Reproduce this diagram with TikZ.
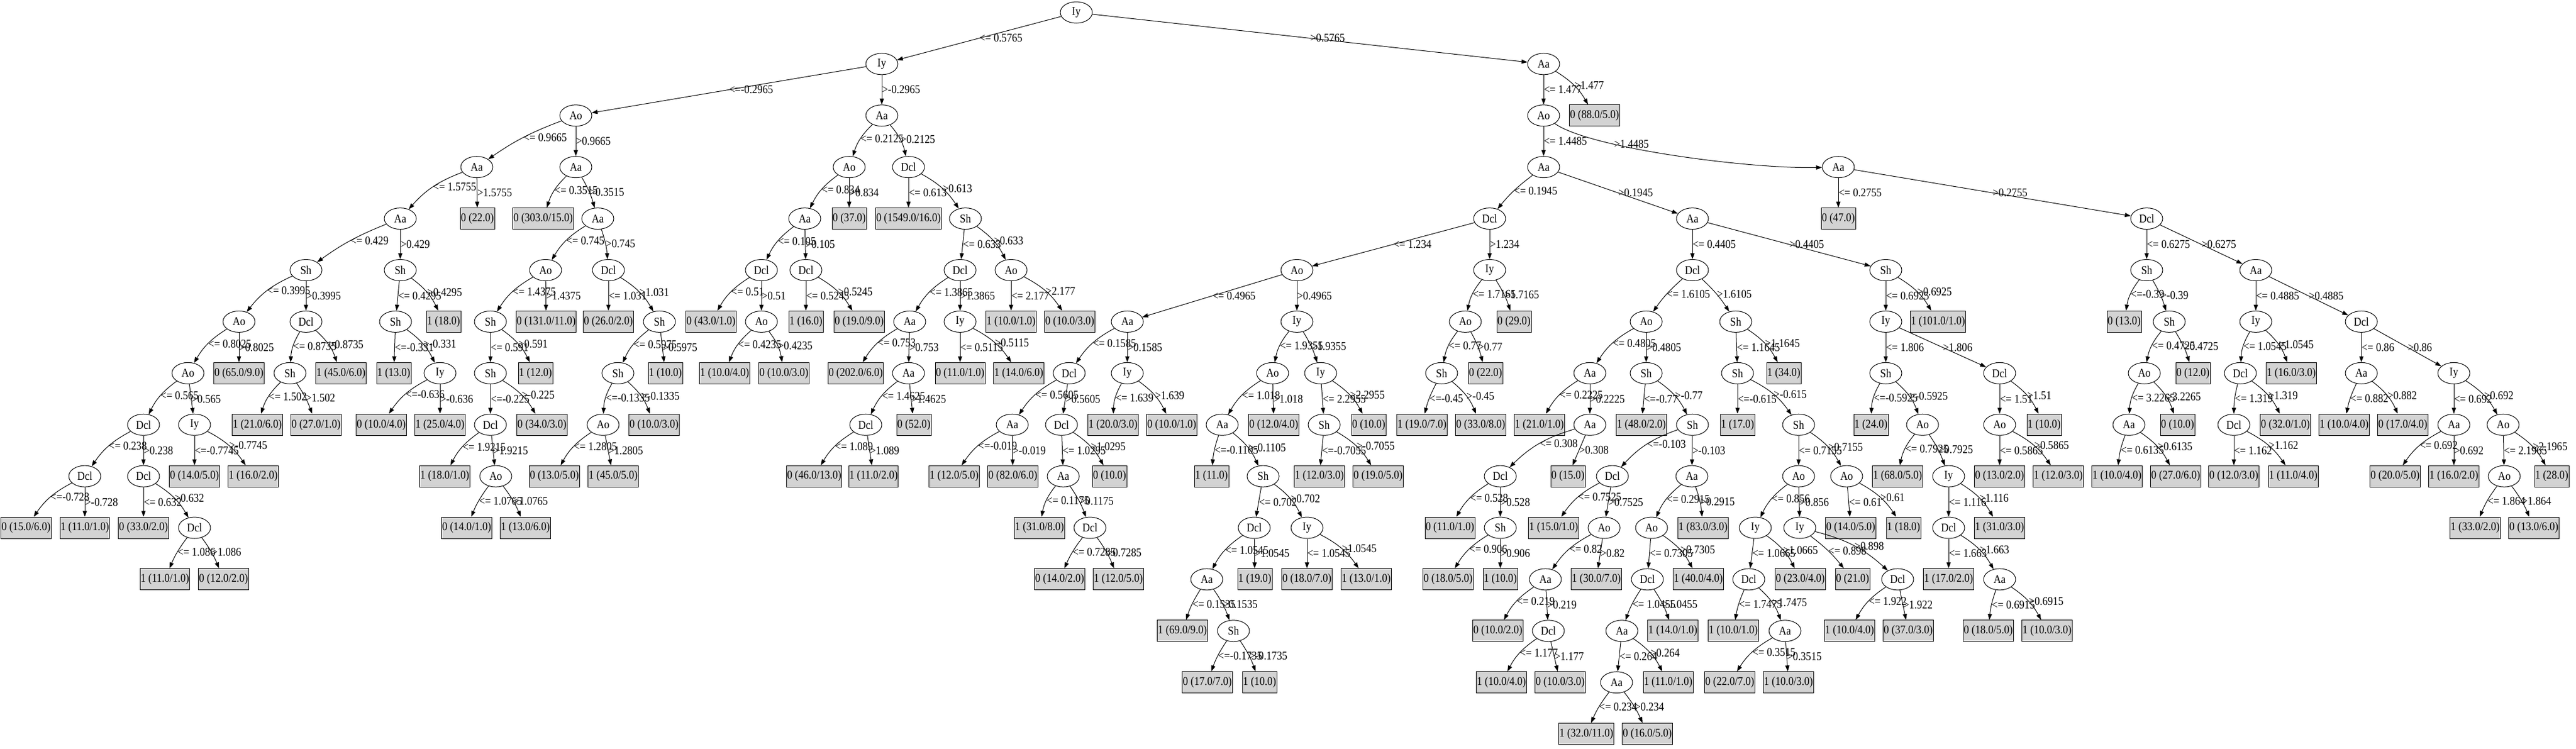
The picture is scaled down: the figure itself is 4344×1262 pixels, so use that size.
\documentclass[tikz,border=0pt]{standalone}
\usepackage{fontspec}
\setmainfont{Liberation Serif}[FakeStretch=0.88]
\usetikzlibrary{arrows.meta,shapes.geometric}
\definecolor{leafgray}{HTML}{D3D3D3}
\tikzset{
  inode/.style={ellipse, draw, line width=1pt, minimum width=54pt, minimum height=36pt, inner sep=0pt},
  leaf/.style={rectangle, draw, fill=leafgray, line width=1pt, minimum height=36pt, minimum width=58pt, inner xsep=1pt, inner ysep=0pt},
  edge/.style={line width=1pt, -{Triangle[length=10pt,width=7pt]}},
  lbl/.style={anchor=west, inner sep=0pt},
  bl/.style={bend right=14}, bls/.style={bend right=7},
  br/.style={bend left=14}, brs/.style={bend left=7},
  st/.style={}
}
\newcommand{\mkin}[4]{\node[inode] (#1) at (#2,{-21-86.9*#3}) {#4};}
\newcommand{\mklf}[4]{\node[leaf] (#1) at (#2,{-21-86.9*#3}) {#4};}
\newcommand{\mkedge}[4]{\draw[edge] (#1) to[#4] node[lbl]{#3} (#2);}
\begin{document}
\begin{tikzpicture}[x=1pt, y=1pt, font=\fontsize{20}{24}\selectfont]
\useasboundingbox (0,0) rectangle (4344,-1262);
% level 0-3
\mkin{n0}{1815}{0}{Iy}
\mkin{n1}{1487}{1}{Iy}
\mkin{n2}{2603}{1}{Aa}
\mkin{n3}{971}{2}{Ao}
\mkin{n4}{1487}{2}{Aa}
\mkin{n5}{2603}{2}{Ao}
\mklf{n6}{2689}{2}{0 (88.0/5.0)}
\mkin{n7}{804}{3}{Aa}
\mkin{n8}{971}{3}{Aa}
\mkin{n9}{1432}{3}{Ao}
\mkin{n10}{1532}{3}{Dcl}
\mkin{n11}{2603}{3}{Aa}
\mkin{n12}{3100}{3}{Aa}
% level 4
\mkin{n13}{675}{4}{Aa}
\mklf{n14}{805}{4}{0 (22.0)}
\mklf{n15}{916}{4}{0 (303.0/15.0)}
\mkin{n16}{1008}{4}{Aa}
\mkin{n17}{1357}{4}{Aa}
\mklf{n18}{1432}{4}{0 (37.0)}
\mklf{n19}{1532}{4}{0 (1549.0/16.0)}
\mkin{n20}{1628}{4}{Sh}
\mkin{n21}{2512}{4}{Dcl}
\mkin{n22}{2854}{4}{Aa}
\mklf{n23}{3100}{4}{0 (47.0)}
\mkin{n24}{3620}{4}{Dcl}
% level 5
\mkin{n25}{516}{5}{Sh}
\mkin{n26}{675}{5}{Sh}
\mkin{n27}{920}{5}{Ao}
\mkin{n28}{1026}{5}{Dcl}
\mkin{n29}{1284}{5}{Dcl}
\mkin{n30}{1359}{5}{Dcl}
\mkin{n31}{1619}{5}{Dcl}
\mkin{n32}{1705}{5}{Ao}
\mkin{n33}{2187}{5}{Ao}
\mkin{n34}{2512}{5}{Iy}
\mkin{n35}{2854}{5}{Dcl}
\mkin{n36}{3180}{5}{Sh}
\mkin{n37}{3620}{5}{Sh}
\mkin{n38}{3804}{5}{Aa}
% level 6
\mkin{n39}{403}{6}{Ao}
\mkin{n40}{516}{6}{Dcl}
\mkin{n41}{667}{6}{Sh}
\mklf{n42}{748}{6}{1 (18.0)}
\mkin{n43}{827}{6}{Sh}
\mklf{n44}{921}{6}{0 (131.0/11.0)}
\mklf{n45}{1026}{6}{0 (26.0/2.0)}
\mkin{n46}{1112}{6}{Sh}
\mklf{n47}{1199}{6}{0 (43.0/1.0)}
\mkin{n48}{1284}{6}{Ao}
\mklf{n49}{1359}{6}{1 (16.0)}
\mklf{n50}{1449}{6}{0 (19.0/9.0)}
\mkin{n51}{1534}{6}{Aa}
\mkin{n52}{1619}{6}{Iy}
\mklf{n53}{1705}{6}{1 (10.0/1.0)}
\mklf{n54}{1804}{6}{0 (10.0/3.0)}
\mkin{n55}{1901}{6}{Aa}
\mkin{n56}{2187}{6}{Iy}
\mkin{n57}{2471}{6}{Ao}
\mklf{n58}{2553}{6}{0 (29.0)}
\mkin{n59}{2776}{6}{Ao}
\mkin{n60}{2927}{6}{Sh}
\mkin{n61}{3180}{6}{Iy}
\mklf{n62}{3268}{6}{1 (101.0/1.0)}
\mklf{n63}{3582}{6}{0 (13.0)}
\mkin{n64}{3658}{6}{Sh}
\mkin{n65}{3804}{6}{Iy}
\mkin{n66}{3982}{6}{Dcl}
% level 7
\mkin{n67}{317}{7}{Ao}
\mklf{n68}{403}{7}{0 (65.0/9.0)}
\mkin{n69}{489}{7}{Sh}
\mklf{n70}{575}{7}{1 (45.0/6.0)}
\mklf{n71}{664}{7}{1 (13.0)}
\mkin{n72}{742}{7}{Iy}
\mkin{n73}{827}{7}{Sh}
\mklf{n74}{903}{7}{1 (12.0)}
\mkin{n75}{1042}{7}{Sh}
\mklf{n76}{1122}{7}{1 (10.0)}
\mklf{n77}{1222}{7}{1 (10.0/4.0)}
\mklf{n78}{1322}{7}{0 (10.0/3.0)}
\mklf{n79}{1443}{7}{0 (202.0/6.0)}
\mkin{n80}{1532}{7}{Aa}
\mklf{n81}{1619}{7}{0 (11.0/1.0)}
\mklf{n82}{1718}{7}{1 (14.0/6.0)}
\mkin{n83}{1803}{7}{Dcl}
\mkin{n84}{1901}{7}{Iy}
\mkin{n85}{2146}{7}{Ao}
\mkin{n86}{2227}{7}{Iy}
\mkin{n87}{2431}{7}{Sh}
\mklf{n88}{2505}{7}{0 (22.0)}
\mkin{n89}{2681}{7}{Aa}
\mkin{n90}{2776}{7}{Sh}
\mkin{n91}{2930}{7}{Sh}
\mklf{n92}{3008}{7}{1 (34.0)}
\mkin{n93}{3180}{7}{Sh}
\mkin{n94}{3372}{7}{Dcl}
\mkin{n95}{3616}{7}{Ao}
\mklf{n96}{3698}{7}{0 (12.0)}
\mkin{n97}{3778}{7}{Dcl}
\mklf{n98}{3864}{7}{1 (16.0/3.0)}
\mkin{n99}{3982}{7}{Aa}
\mkin{n100}{4138}{7}{Iy}
% level 8
\mkin{n101}{242}{8}{Dcl}
\mkin{n102}{328}{8}{Iy}
\mklf{n103}{434}{8}{1 (21.0/6.0)}
\mklf{n104}{533}{8}{0 (27.0/1.0)}
\mklf{n105}{643}{8}{0 (10.0/4.0)}
\mklf{n106}{742}{8}{1 (25.0/4.0)}
\mkin{n107}{827}{8}{Dcl}
\mklf{n108}{914}{8}{0 (34.0/3.0)}
\mkin{n109}{1017}{8}{Ao}
\mklf{n110}{1103}{8}{0 (10.0/3.0)}
\mkin{n111}{1460}{8}{Dcl}
\mklf{n112}{1541}{8}{0 (52.0)}
\mkin{n113}{1707}{8}{Aa}
\mkin{n114}{1790}{8}{Dcl}
\mklf{n115}{1877}{8}{1 (20.0/3.0)}
\mklf{n116}{1976}{8}{0 (10.0/1.0)}
\mkin{n117}{2061}{8}{Aa}
\mklf{n118}{2148}{8}{0 (12.0/4.0)}
\mkin{n119}{2233}{8}{Sh}
\mklf{n120}{2308}{8}{0 (10.0)}
\mklf{n121}{2398}{8}{1 (19.0/7.0)}
\mklf{n122}{2497}{8}{0 (33.0/8.0)}
\mklf{n123}{2596}{8}{1 (21.0/1.0)}
\mkin{n124}{2681}{8}{Aa}
\mklf{n125}{2768}{8}{1 (48.0/2.0)}
\mkin{n126}{2854}{8}{Sh}
\mklf{n127}{2930}{8}{1 (17.0)}
\mkin{n128}{3033}{8}{Sh}
\mklf{n129}{3155}{8}{1 (24.0)}
\mkin{n130}{3242}{8}{Ao}
\mkin{n131}{3372}{8}{Ao}
\mklf{n132}{3447}{8}{1 (10.0)}
\mkin{n133}{3590}{8}{Aa}
\mklf{n134}{3672}{8}{0 (10.0)}
\mkin{n135}{3767}{8}{Dcl}
\mklf{n136}{3854}{8}{0 (32.0/1.0)}
\mklf{n137}{3953}{8}{1 (10.0/4.0)}
\mklf{n138}{4052}{8}{0 (17.0/4.0)}
\mkin{n139}{4138}{8}{Aa}
\mkin{n140}{4221}{8}{Ao}
% level 9
\mkin{n141}{143}{9}{Dcl}
\mkin{n142}{242}{9}{Dcl}
\mklf{n143}{328}{9}{0 (14.0/5.0)}
\mklf{n144}{427}{9}{1 (16.0/2.0)}
\mklf{n145}{750}{9}{1 (18.0/1.0)}
\mkin{n146}{836}{9}{Ao}
\mklf{n147}{935}{9}{0 (13.0/5.0)}
\mklf{n148}{1034}{9}{1 (45.0/5.0)}
\mklf{n149}{1373}{9}{0 (46.0/13.0)}
\mklf{n150}{1473}{9}{1 (11.0/2.0)}
\mklf{n151}{1609}{9}{1 (12.0/5.0)}
\mklf{n152}{1708}{9}{0 (82.0/6.0)}
\mkin{n153}{1793}{9}{Aa}
\mklf{n154}{1871}{9}{0 (10.0)}
\mklf{n155}{2043}{9}{1 (11.0)}
\mkin{n156}{2130}{9}{Sh}
\mklf{n157}{2225}{9}{1 (12.0/3.0)}
\mklf{n158}{2324}{9}{0 (19.0/5.0)}
\mkin{n159}{2530}{9}{Dcl}
\mklf{n160}{2644}{9}{0 (15.0)}
\mkin{n161}{2719}{9}{Dcl}
\mkin{n162}{2853}{9}{Aa}
\mkin{n163}{3033}{9}{Ao}
\mkin{n164}{3114}{9}{Ao}
\mklf{n165}{3200}{9}{1 (68.0/5.0)}
\mkin{n166}{3286}{9}{Iy}
\mklf{n167}{3372}{9}{0 (13.0/2.0)}
\mklf{n168}{3471}{9}{1 (12.0/3.0)}
\mklf{n169}{3570}{9}{1 (10.0/4.0)}
\mklf{n170}{3669}{9}{0 (27.0/6.0)}
\mklf{n171}{3767}{9}{0 (12.0/3.0)}
\mklf{n172}{3867}{9}{1 (11.0/4.0)}
\mklf{n173}{4039}{9}{0 (20.0/5.0)}
\mklf{n174}{4138}{9}{1 (16.0/2.0)}
\mkin{n175}{4223}{9}{Ao}
\mklf{n176}{4303}{9}{1 (28.0)}
% level 10
\mklf{n177}{44}{10}{0 (15.0/6.0)}
\mklf{n178}{143}{10}{1 (11.0/1.0)}
\mklf{n179}{242}{10}{0 (33.0/2.0)}
\mkin{n180}{328}{10}{Dcl}
\mklf{n181}{787}{10}{0 (14.0/1.0)}
\mklf{n182}{886}{10}{1 (13.0/6.0)}
\mklf{n183}{1753}{10}{1 (31.0/8.0)}
\mkin{n184}{1838}{10}{Dcl}
\mkin{n185}{2115}{10}{Dcl}
\mkin{n186}{2204}{10}{Iy}
\mklf{n187}{2445}{10}{0 (11.0/1.0)}
\mkin{n188}{2530}{10}{Sh}
\mklf{n189}{2620}{10}{1 (15.0/1.0)}
\mkin{n190}{2705}{10}{Ao}
\mkin{n191}{2785}{10}{Ao}
\mklf{n192}{2872}{10}{1 (83.0/3.0)}
\mkin{n193}{2960}{10}{Iy}
\mkin{n194}{3035}{10}{Iy}
\mklf{n195}{3121}{10}{0 (14.0/5.0)}
\mklf{n196}{3210}{10}{1 (18.0)}
\mkin{n197}{3286}{10}{Dcl}
\mklf{n198}{3372}{10}{1 (31.0/3.0)}
\mklf{n199}{4174}{10}{1 (33.0/2.0)}
\mklf{n200}{4273}{10}{0 (13.0/6.0)}
% level 11
\mklf{n201}{278}{11}{1 (11.0/1.0)}
\mklf{n202}{377}{11}{0 (12.0/2.0)}
\mklf{n203}{1787}{11}{0 (14.0/2.0)}
\mklf{n204}{1886}{11}{1 (12.0/5.0)}
\mkin{n205}{2035}{11}{Aa}
\mklf{n206}{2116}{11}{1 (19.0)}
\mklf{n207}{2204}{11}{0 (18.0/7.0)}
\mklf{n208}{2304}{11}{1 (13.0/1.0)}
\mklf{n209}{2442}{11}{0 (18.0/5.0)}
\mklf{n210}{2530}{11}{1 (10.0)}
\mkin{n211}{2606}{11}{Aa}
\mklf{n212}{2692}{11}{1 (30.0/7.0)}
\mkin{n213}{2778}{11}{Dcl}
\mklf{n214}{2864}{11}{1 (40.0/4.0)}
\mkin{n215}{2949}{11}{Dcl}
\mklf{n216}{3036}{11}{0 (23.0/4.0)}
\mklf{n217}{3124}{11}{0 (21.0)}
\mkin{n218}{3200}{11}{Dcl}
\mklf{n219}{3286}{11}{1 (17.0/2.0)}
\mkin{n220}{3372}{11}{Aa}
% level 12
\mklf{n221}{1994}{12}{1 (69.0/9.0)}
\mkin{n222}{2080}{12}{Sh}
\mklf{n223}{2526}{12}{0 (10.0/2.0)}
\mkin{n224}{2611}{12}{Dcl}
\mkin{n225}{2735}{12}{Aa}
\mklf{n226}{2821}{12}{1 (14.0/1.0)}
\mklf{n227}{2923}{12}{1 (10.0/1.0)}
\mkin{n228}{3010}{12}{Aa}
\mklf{n229}{3119}{12}{1 (10.0/4.0)}
\mklf{n230}{3218}{12}{0 (37.0/3.0)}
\mklf{n231}{3353}{12}{0 (18.0/5.0)}
\mklf{n232}{3452}{12}{1 (10.0/3.0)}
% level 13
\mklf{n233}{2036}{13}{0 (17.0/7.0)}
\mklf{n234}{2124}{13}{1 (10.0)}
\mklf{n235}{2532}{13}{1 (10.0/4.0)}
\mklf{n236}{2631}{13}{0 (10.0/3.0)}
\mkin{n237}{2726}{13}{Aa}
\mklf{n238}{2813}{13}{1 (11.0/1.0)}
\mklf{n239}{2917}{13}{0 (22.0/7.0)}
\mklf{n240}{3016}{13}{1 (10.0/3.0)}
% level 14
\mklf{n241}{2675}{14}{1 (32.0/11.0)}
\mklf{n242}{2778}{14}{0 (16.0/5.0)}
% edges
\mkedge{n0}{n1}{<= 0.5765}{st}
\mkedge{n0}{n2}{>0.5765}{st}
\mkedge{n1}{n3}{<=-0.2965}{st}
\mkedge{n1}{n4}{>-0.2965}{st}
\mkedge{n2}{n5}{<= 1.477}{st}
\mkedge{n2}{n6}{>1.477}{br}
\mkedge{n3}{n7}{<= 0.9665}{bls}
\mkedge{n3}{n8}{>0.9665}{st}
\mkedge{n4}{n9}{<= 0.2125}{bl}
\mkedge{n4}{n10}{>0.2125}{br}
\mkedge{n5}{n11}{<= 1.4485}{st}
\draw[edge] (n5) .. controls (2680,-250) and (2950,-285) .. (n12) node[lbl, pos=0.3] {>1.4485};
\mkedge{n7}{n13}{<= 1.5755}{bl}
\mkedge{n7}{n14}{>1.5755}{st}
\mkedge{n8}{n15}{<= 0.3515}{bl}
\mkedge{n8}{n16}{>0.3515}{brs}
\mkedge{n9}{n17}{<= 0.834}{bl}
\mkedge{n9}{n18}{>0.834}{st}
\mkedge{n10}{n19}{<= 0.613}{st}
\mkedge{n10}{n20}{>0.613}{br}
\mkedge{n11}{n21}{<= 0.1945}{bls}
\mkedge{n11}{n22}{>0.1945}{st}
\mkedge{n12}{n23}{<= 0.2755}{st}
\mkedge{n12}{n24}{>0.2755}{st}
\mkedge{n13}{n25}{<= 0.429}{bls}
\mkedge{n13}{n26}{>0.429}{st}
\mkedge{n16}{n27}{<= 0.745}{bl}
\mkedge{n16}{n28}{>0.745}{brs}
\mkedge{n17}{n29}{<= 0.105}{bl}
\mkedge{n17}{n30}{>0.105}{st}
\mkedge{n20}{n31}{<= 0.633}{st}
\mkedge{n20}{n32}{>0.633}{br}
\mkedge{n21}{n33}{<= 1.234}{st}
\mkedge{n21}{n34}{>1.234}{st}
\mkedge{n22}{n35}{<= 0.4405}{st}
\mkedge{n22}{n36}{>0.4405}{st}
\mkedge{n24}{n37}{<= 0.6275}{st}
\mkedge{n24}{n38}{>0.6275}{st}
\mkedge{n25}{n39}{<= 0.3995}{bl}
\mkedge{n25}{n40}{>0.3995}{st}
\mkedge{n26}{n41}{<= 0.4295}{st}
\mkedge{n26}{n42}{>0.4295}{br}
\mkedge{n27}{n43}{<= 1.4375}{bl}
\mkedge{n27}{n44}{>1.4375}{st}
\mkedge{n28}{n45}{<= 1.031}{st}
\mkedge{n28}{n46}{>1.031}{br}
\mkedge{n29}{n47}{<= 0.51}{bl}
\mkedge{n29}{n48}{>0.51}{st}
\mkedge{n30}{n49}{<= 0.5245}{st}
\mkedge{n30}{n50}{>0.5245}{br}
\mkedge{n31}{n51}{<= 1.3865}{bl}
\mkedge{n31}{n52}{>1.3865}{st}
\mkedge{n32}{n53}{<= 2.177}{st}
\mkedge{n32}{n54}{>2.177}{br}
\mkedge{n33}{n55}{<= 0.4965}{st}
\mkedge{n33}{n56}{>0.4965}{st}
\mkedge{n34}{n57}{<= 1.7165}{bl}
\mkedge{n34}{n58}{>1.7165}{brs}
\mkedge{n35}{n59}{<= 1.6105}{bls}
\mkedge{n35}{n60}{>1.6105}{brs}
\mkedge{n36}{n61}{<= 0.6925}{st}
\mkedge{n36}{n62}{>0.6925}{br}
\mkedge{n37}{n63}{<=-0.39}{bl}
\mkedge{n37}{n64}{>-0.39}{brs}
\mkedge{n38}{n65}{<= 0.4885}{st}
\mkedge{n38}{n66}{>0.4885}{st}
\mkedge{n39}{n67}{<= 0.8025}{bl}
\mkedge{n39}{n68}{>0.8025}{st}
\mkedge{n40}{n69}{<= 0.8735}{bl}
\mkedge{n40}{n70}{>0.8735}{br}
\mkedge{n41}{n71}{<=-0.331}{st}
\mkedge{n41}{n72}{>-0.331}{br}
\mkedge{n43}{n73}{<= 0.591}{st}
\mkedge{n43}{n74}{>0.591}{br}
\mkedge{n46}{n75}{<= 0.5975}{bl}
\mkedge{n46}{n76}{>0.5975}{st}
\mkedge{n48}{n77}{<= 0.4235}{bl}
\mkedge{n48}{n78}{>0.4235}{br}
\mkedge{n51}{n79}{<= 0.753}{bl}
\mkedge{n51}{n80}{>0.753}{st}
\mkedge{n52}{n81}{<= 0.5115}{st}
\mkedge{n52}{n82}{>0.5115}{br}
\mkedge{n55}{n83}{<= 0.1585}{bl}
\mkedge{n55}{n84}{>0.1585}{st}
\mkedge{n56}{n85}{<= 1.9355}{bl}
\mkedge{n56}{n86}{>1.9355}{brs}
\mkedge{n57}{n87}{<= 0.77}{bl}
\mkedge{n57}{n88}{>0.77}{brs}
\mkedge{n59}{n89}{<= 0.4805}{bl}
\mkedge{n59}{n90}{>0.4805}{st}
\mkedge{n60}{n91}{<= 1.1645}{st}
\mkedge{n60}{n92}{>1.1645}{br}
\mkedge{n61}{n93}{<= 1.806}{st}
\mkedge{n61}{n94}{>1.806}{st}
\mkedge{n64}{n95}{<= 0.4725}{bl}
\mkedge{n64}{n96}{>0.4725}{brs}
\mkedge{n65}{n97}{<= 1.0545}{bl}
\mkedge{n65}{n98}{>1.0545}{br}
\mkedge{n66}{n99}{<= 0.86}{st}
\mkedge{n66}{n100}{>0.86}{st}
\mkedge{n67}{n101}{<= 0.565}{bl}
\mkedge{n67}{n102}{>0.565}{st}
\mkedge{n69}{n103}{<= 1.502}{bl}
\mkedge{n69}{n104}{>1.502}{brs}
\mkedge{n72}{n105}{<=-0.636}{bl}
\mkedge{n72}{n106}{>-0.636}{st}
\mkedge{n73}{n107}{<=-0.225}{st}
\mkedge{n73}{n108}{>-0.225}{br}
\mkedge{n75}{n109}{<=-0.1335}{bl}
\mkedge{n75}{n110}{>-0.1335}{br}
\mkedge{n80}{n111}{<= 1.4625}{bl}
\mkedge{n80}{n112}{>1.4625}{st}
\mkedge{n83}{n113}{<= 0.5605}{bl}
\mkedge{n83}{n114}{>0.5605}{st}
\mkedge{n84}{n115}{<= 1.639}{bl}
\mkedge{n84}{n116}{>1.639}{br}
\mkedge{n85}{n117}{<= 1.018}{bl}
\mkedge{n85}{n118}{>1.018}{st}
\mkedge{n86}{n119}{<= 2.2955}{st}
\mkedge{n86}{n120}{>2.2955}{br}
\mkedge{n87}{n121}{<=-0.45}{bls}
\mkedge{n87}{n122}{>-0.45}{br}
\mkedge{n89}{n123}{<= 0.2225}{bl}
\mkedge{n89}{n124}{>0.2225}{st}
\mkedge{n90}{n125}{<=-0.77}{st}
\mkedge{n90}{n126}{>-0.77}{br}
\mkedge{n91}{n127}{<=-0.615}{st}
\mkedge{n91}{n128}{>-0.615}{br}
\mkedge{n93}{n129}{<=-0.5925}{bl}
\mkedge{n93}{n130}{>-0.5925}{br}
\mkedge{n94}{n131}{<= 1.51}{st}
\mkedge{n94}{n132}{>1.51}{br}
\mkedge{n95}{n133}{<= 3.2265}{bl}
\mkedge{n95}{n134}{>3.2265}{br}
\mkedge{n97}{n135}{<= 1.319}{bls}
\mkedge{n97}{n136}{>1.319}{br}
\mkedge{n99}{n137}{<= 0.882}{bls}
\mkedge{n99}{n138}{>0.882}{br}
\mkedge{n100}{n139}{<= 0.692}{st}
\mkedge{n100}{n140}{>0.692}{br}
\mkedge{n101}{n141}{<= 0.238}{bl}
\mkedge{n101}{n142}{>0.238}{st}
\mkedge{n102}{n143}{<=-0.7745}{st}
\mkedge{n102}{n144}{>-0.7745}{br}
\mkedge{n107}{n145}{<= 1.9215}{bl}
\mkedge{n107}{n146}{>1.9215}{st}
\mkedge{n109}{n147}{<= 1.2805}{bl}
\mkedge{n109}{n148}{>1.2805}{st}
\mkedge{n111}{n149}{<= 1.089}{bl}
\mkedge{n111}{n150}{>1.089}{st}
\mkedge{n113}{n151}{<=-0.019}{bl}
\mkedge{n113}{n152}{>-0.019}{st}
\mkedge{n114}{n153}{<= 1.0295}{st}
\mkedge{n114}{n154}{>1.0295}{br}
\mkedge{n117}{n155}{<=-0.1105}{bls}
\mkedge{n117}{n156}{>-0.1105}{br}
\mkedge{n119}{n157}{<=-0.7055}{st}
\mkedge{n119}{n158}{>-0.7055}{br}
\mkedge{n124}{n159}{<= 0.308}{bl}
\mkedge{n124}{n160}{>0.308}{st}
\mkedge{n126}{n161}{<=-0.103}{bl}
\mkedge{n126}{n162}{>-0.103}{st}
\mkedge{n128}{n163}{<= 0.7155}{st}
\mkedge{n128}{n164}{>0.7155}{br}
\mkedge{n130}{n165}{<= 0.7925}{bl}
\mkedge{n130}{n166}{>0.7925}{brs}
\mkedge{n131}{n167}{<= 0.5865}{st}
\mkedge{n131}{n168}{>0.5865}{br}
\mkedge{n133}{n169}{<= 0.6135}{bls}
\mkedge{n133}{n170}{>0.6135}{br}
\mkedge{n135}{n171}{<= 1.162}{st}
\mkedge{n135}{n172}{>1.162}{br}
\mkedge{n139}{n173}{<= 0.692}{bl}
\mkedge{n139}{n174}{>0.692}{st}
\mkedge{n140}{n175}{<= 2.1965}{st}
\mkedge{n140}{n176}{>2.1965}{br}
\mkedge{n141}{n177}{<=-0.728}{bl}
\mkedge{n141}{n178}{>-0.728}{st}
\mkedge{n142}{n179}{<= 0.632}{st}
\mkedge{n142}{n180}{>0.632}{br}
\mkedge{n146}{n181}{<= 1.0765}{bls}
\mkedge{n146}{n182}{>1.0765}{brs}
\mkedge{n153}{n183}{<= 0.1175}{bl}
\mkedge{n153}{n184}{>0.1175}{brs}
\mkedge{n156}{n185}{<= 0.702}{st}
\mkedge{n156}{n186}{>0.702}{br}
\mkedge{n159}{n187}{<= 0.528}{bl}
\mkedge{n159}{n188}{>0.528}{st}
\mkedge{n161}{n189}{<= 0.7525}{bl}
\mkedge{n161}{n190}{>0.7525}{st}
\mkedge{n162}{n191}{<= 0.2915}{bl}
\mkedge{n162}{n192}{>0.2915}{brs}
\mkedge{n163}{n193}{<= 0.856}{bl}
\mkedge{n163}{n194}{>0.856}{st}
\mkedge{n164}{n195}{<= 0.61}{st}
\mkedge{n164}{n196}{>0.61}{br}
\mkedge{n166}{n197}{<= 1.116}{st}
\mkedge{n166}{n198}{>1.116}{br}
\mkedge{n175}{n199}{<= 1.864}{bls}
\mkedge{n175}{n200}{>1.864}{brs}
\mkedge{n180}{n201}{<= 1.086}{bls}
\mkedge{n180}{n202}{>1.086}{brs}
\mkedge{n184}{n203}{<= 0.7285}{bls}
\mkedge{n184}{n204}{>0.7285}{brs}
\mkedge{n185}{n205}{<= 1.0545}{bl}
\mkedge{n185}{n206}{>1.0545}{st}
\mkedge{n186}{n207}{<= 1.0545}{st}
\mkedge{n186}{n208}{>1.0545}{br}
\mkedge{n188}{n209}{<= 0.906}{bl}
\mkedge{n188}{n210}{>0.906}{st}
\mkedge{n190}{n211}{<= 0.82}{bl}
\mkedge{n190}{n212}{>0.82}{st}
\mkedge{n191}{n213}{<= 0.7305}{st}
\mkedge{n191}{n214}{>0.7305}{br}
\mkedge{n193}{n215}{<= 1.0665}{st}
\mkedge{n193}{n216}{>1.0665}{br}
\mkedge{n194}{n217}{<= 0.898}{brs}
\mkedge{n194}{n218}{>0.898}{br}
\mkedge{n197}{n219}{<= 1.663}{st}
\mkedge{n197}{n220}{>1.663}{br}
\mkedge{n205}{n221}{<= 0.1535}{bls}
\mkedge{n205}{n222}{>0.1535}{brs}
\mkedge{n211}{n223}{<= 0.219}{bl}
\mkedge{n211}{n224}{>0.219}{st}
\mkedge{n213}{n225}{<= 1.0455}{bls}
\mkedge{n213}{n226}{>1.0455}{brs}
\mkedge{n215}{n227}{<= 1.7475}{bls}
\mkedge{n215}{n228}{>1.7475}{br}
\mkedge{n218}{n229}{<= 1.922}{bl}
\mkedge{n218}{n230}{>1.922}{st}
\mkedge{n220}{n231}{<= 0.6915}{bls}
\mkedge{n220}{n232}{>0.6915}{br}
\mkedge{n222}{n233}{<=-0.1735}{bls}
\mkedge{n222}{n234}{>-0.1735}{brs}
\mkedge{n224}{n235}{<= 1.177}{bl}
\mkedge{n224}{n236}{>1.177}{st}
\mkedge{n225}{n237}{<= 0.264}{st}
\mkedge{n225}{n238}{>0.264}{br}
\mkedge{n228}{n239}{<= 0.3515}{bl}
\mkedge{n228}{n240}{>0.3515}{st}
\mkedge{n237}{n241}{<= 0.234}{bls}
\mkedge{n237}{n242}{>0.234}{brs}
\end{tikzpicture}
\end{document}
